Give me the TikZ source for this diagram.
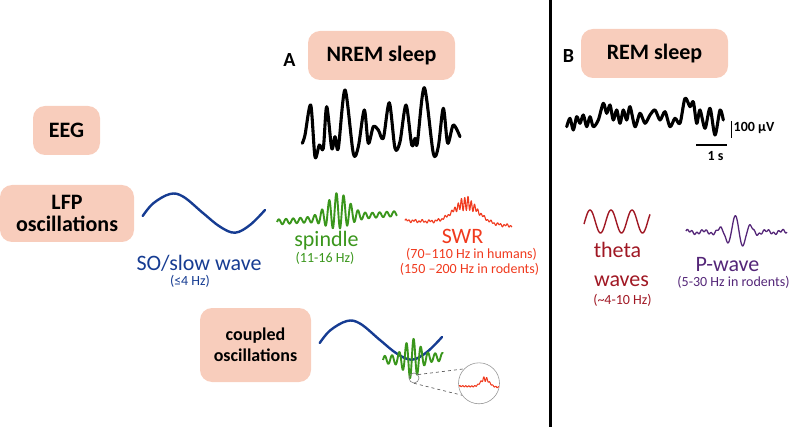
\documentclass[tikz,border=0pt]{standalone}
\usepackage{fontspec}
\setmainfont{Carlito}
\definecolor{boxfill}{RGB}{248,205,188}
\definecolor{soblue}{RGB}{22,60,146}
\definecolor{spgreen}{RGB}{58,150,28}
\definecolor{swrred}{RGB}{240,58,30}
\definecolor{thetared}{RGB}{160,24,36}
\definecolor{pwpurple}{RGB}{84,38,120}
\begin{document}
\begin{tikzpicture}[x=1pt,y=-1pt,
  lbox/.style={fill=boxfill, rounded corners=12pt, inner sep=0pt, align=center,
    font=\bfseries\fontsize{22}{25}\selectfont},
  trace/.style={line width=3.1pt, line join=round, line cap=round},
  bigtxt/.style={anchor=base, font=\fontsize{22}{24}\selectfont, inner sep=0pt},
  smalltxt/.style={anchor=base, font=\fontsize{14}{16}\selectfont, inner sep=0pt},
  panel/.style={anchor=base, font=\bfseries\fontsize{20}{22}\selectfont, inner sep=0pt}]
\useasboundingbox (0,0) rectangle (794,427);

% divider
\coordinate (dtop) at (550.5,0);
\coordinate (dbot) at (550.5,427);
\draw[line width=2.6pt] (dtop) -- (dbot);

% boxes
\node[lbox, minimum width=147pt, minimum height=49pt] (nrem) at (381.5,55.5) {NREM sleep};
\node[lbox, minimum width=67pt, minimum height=49pt] (eeg) at (66.5,130.5) {EEG};
\node[lbox, minimum width=134pt, minimum height=57pt] (lfp) at (67,213.5) {LFP\\[-3pt]oscillations};
\node[lbox, minimum width=111pt, minimum height=74pt, font=\bfseries\fontsize{18}{21}\selectfont] (coup) at (255.5,345) {coupled\\oscillations};
\node[lbox, minimum width=147pt, minimum height=49pt] (rem) at (654.5,53.5) {REM sleep};

% panel letters
\node[panel] (pa) at (289.5,66.5) {A};
\node[panel] (pb) at (568.5,63) {B};

% NREM trace
\draw[trace] plot[smooth, tension=0.5] coordinates {
(302.3,143.3) (305,135) (310.7,105) (315,156.7) (319.3,145) (323.3,148.3)
(326.7,106.7) (331.7,148.3) (335,136.7) (338.3,148.3) (345,90) (353.3,153.3)
(358.3,146.7) (364.3,110) (368.3,143.3) (373.3,126.7) (378.3,130) (383.3,138.3)
(389.3,102.7) (395,148.3) (400,141.7) (406,105) (411.7,145) (415,138.3)
(417.3,143.3) (424.3,87.7) (433.3,153.3) (438.3,146.7) (443.3,108.3)
(447.7,143.3) (453.3,125) (460,136.7)};

% REM trace
\draw[trace] plot[smooth, tension=0.5] coordinates {
(566.7,126.7) (570,118.3) (573.3,130) (576.7,116.7) (580,123.3) (583.3,115)
(586.7,126.7) (590,116.7) (593.3,126.7) (598.3,120) (603.3,103.3) (606.7,113.3)
(610,105) (613.3,120) (616.7,110) (620,123.3) (623.3,110) (626.7,120)
(630,106.7) (635,126.7) (640,113.3) (645,123.3) (650,115) (655,110)
(660,120) (665,111.7) (670,126.7) (675,118.3) (680,123.3) (685,98.3)
(690,106.7) (693.3,101.7) (696.7,123.3) (700,110) (705,128.3) (710,108.3)
(715,135) (720,110) (723.3,120)};

% scale bars
\coordinate (vb1) at (731.5,121);
\coordinate (vb2) at (731.5,138);
\draw[line width=1.6pt] (vb1) -- (vb2);
\node[anchor=west, inner sep=0pt, font=\bfseries\fontsize{14}{16}\selectfont] (uv) at (733.5,128.5) {100 µV};
\coordinate (hb1) at (696,145);
\coordinate (hb2) at (727,145);
\draw[line width=1.6pt] (hb1) -- (hb2);
\node[inner sep=0pt, font=\bfseries\fontsize{14}{16}\selectfont] (sec) at (715.5,156) {1 s};

% SO slow wave
\draw[soblue, line width=2.4pt, line cap=round] plot[smooth, tension=0.6] coordinates {
(142.7,216) (153.3,203.3) (170,194) (183.3,196.7) (203.3,213.3) (220,226.7)
(235,232.7) (250,225) (265,210)};
\node[bigtxt, text=soblue] (sot) at (199,270.5) {SO/slow wave};
\node[smalltxt, text=soblue] (sof) at (190,285) {(≤4 Hz)};

% spindle
\draw[spgreen, line width=1.9pt, line join=round] plot[domain=277:397, samples=420]
 (\x, {222 - 0.07*(\x-277) - 7*exp(-(((\x-338)/14)*((\x-338)/14))) - (2.5 + 15.5*exp(-(((\x-338)/15)*((\x-338)/15))))*sin((\x-277)*50)});
\node[bigtxt, text=spgreen] (spt) at (326.5,246.5) {spindle};
\node[smalltxt, text=spgreen] (spf) at (325,263) {(11-16 Hz)};

% SWR
\draw[swrred, line width=1.1pt, line join=round] plot[domain=405:512, samples=360]
 (\x, {220.5 + 0.05*(\x-405) - 20*exp(-(((\x-466)/18)*((\x-466)/18))) - (1 + 6*exp(-(((\x-466)/9)*((\x-466)/9))))*sin((\x-405)*110) - 0.8*sin((\x-405)*47)});
\node[bigtxt, text=swrred] (swt) at (462.5,244) {SWR};
\node[smalltxt, text=swrred] (swf1) at (471.5,258.5) {(70–110 Hz in humans)};
\node[smalltxt, text=swrred] (swf2) at (469.5,274) {(150 –200 Hz in rodents)};

% coupled oscillations
\draw[soblue, line width=2.4pt, line cap=round] plot[smooth, tension=0.6] coordinates {
(319.7,343) (330.3,330.3) (347,321) (360.3,323.7) (380.3,340.3) (397,353.7)
(412,359.7) (427,352) (442,337)};
\draw[spgreen, line width=1.9pt, line join=round] plot[domain=383:443, samples=260]
 (\x, {360 - 0.05*(\x-383) - (4 + 16*exp(-(((\x-412)/10)*((\x-412)/10))))*sin((\x-383)*50)});

% zoom circles
\node[circle, draw=gray, line width=0.6pt, minimum size=10pt, inner sep=0pt] (zs) at (414,378) {};
\node[circle, draw=gray!80, line width=0.6pt, fill=white, minimum size=41pt, inner sep=0pt] (zb) at (479,383.3) {};
\draw[dashed, gray!60!black, line width=0.6pt] (zs.40) -- (zb.136);
\draw[dashed, gray!60!black, line width=0.6pt] (zs.-90) -- (zb.-145);
\begin{scope}
\clip (479,383.3) circle (20.2);
\draw[swrred, line width=1pt, line join=round] plot[domain=456:502, samples=200]
 (\x, {386 + 0.03*(\x-456) - 8*exp(-(((\x-485)/6)*((\x-485)/6))) - (0.6 + 2*exp(-(((\x-485)/3)*((\x-485)/3))))*sin((\x-456)*120)});
\end{scope}

% theta
\draw[thetared, line width=1.4pt] plot[domain=584:650, samples=160]
 (\x, {221.5 - 11.5*cos((\x-590)*17.14)});
\node[bigtxt, text=thetared] (tht) at (617.5,258) {theta};
\node[bigtxt, text=thetared] (thw) at (621.5,287) {waves};
\node[smalltxt, text=thetared] (thf) at (622.5,305) {(\char"007E 4-10 Hz)};

% P-wave
\draw[pwpurple, line width=1.3pt, line join=round] plot[domain=686:787, samples=320]
 (\x, {232 - (1.5 + 15*exp(-(((\x-737)/13)*((\x-737)/13))))*sin((\x-700)*23) - 1.2*sin((\x-686)*75)*(1-exp(-(((\x-737)/13)*((\x-737)/13))))});
\node[bigtxt, text=pwpurple] (pwt) at (727.5,272) {P-wave};
\node[smalltxt, text=pwpurple] (pwf) at (733.5,286.5) {(5-30 Hz in rodents)};
\end{tikzpicture}
\end{document}
